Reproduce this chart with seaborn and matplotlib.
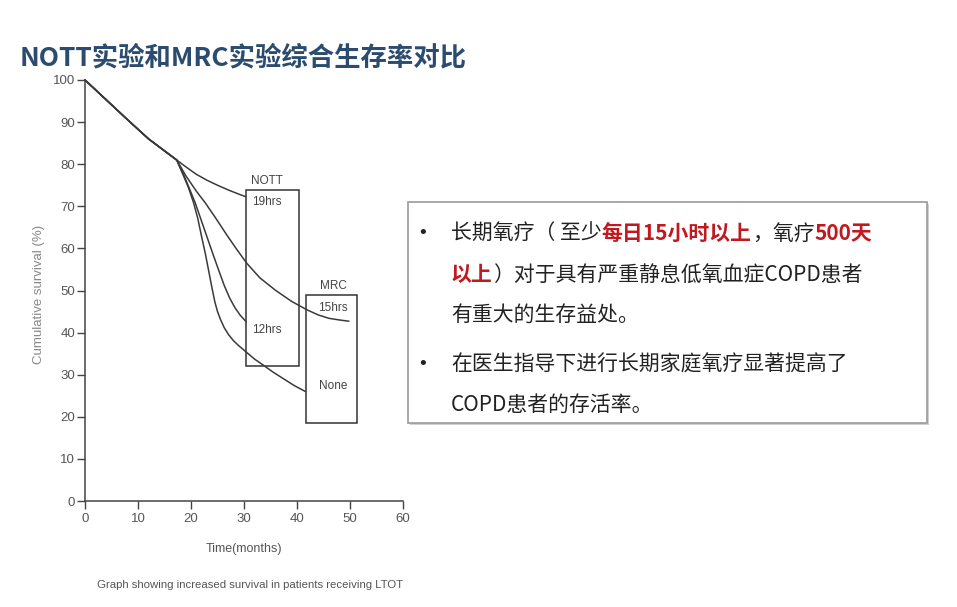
import numpy as np
import pandas as pd
import seaborn as sns
import matplotlib.pyplot as plt
from matplotlib.patches import Rectangle

# survival curves (months, cumulative survival %)
months_common = [0, 4, 8, 12, 17.3]
survival_common = [100, 95.3, 90.6, 86.0, 81.0]

months_19hrs = [19, 21, 23, 25, 27, 29, 30.3]
survival_19hrs = [79.4, 77.6, 76.2, 75.0, 73.9, 72.9, 72.3]

months_15hrs = [19, 21, 22.7, 24.5, 26.7, 28.5, 30.5, 33, 36, 39, 41.9, 44, 46, 48, 49.8]
survival_15hrs = [77.3, 73.6, 70.8, 67.5, 63.3, 60.0, 56.5, 53.0, 50.0, 47.4, 45.4, 44.2, 43.4, 43.0, 42.7]

months_12hrs = [18.5, 19.7, 20.8, 21.9, 23, 24.1, 25.2, 26.3, 27.3, 28.3, 29.3, 30.4]
survival_12hrs = [77.8, 74.2, 70.8, 66.8, 62.8, 58.8, 54.9, 51.1, 48.2, 45.9, 44.1, 42.6]

months_none = [18.5, 19.5, 20.5, 21.3, 22, 22.7, 23.3, 23.9, 24.5, 25.0, 25.6,
               26.3, 27.1, 28.0, 29.0, 30.4, 32, 33.6, 35.5, 37.5, 39.5, 41.6]
survival_none = [77.5, 74.5, 70.8, 67.0, 62.8, 58.8, 54.9, 51.0, 47.3, 45.0, 43.0,
                 41.1, 39.5, 38.1, 36.9, 35.4, 33.7, 32.3, 30.6, 29.0, 27.4, 26.0]

x_ticks = [0, 10, 20, 30, 40, 50, 60]
y_ticks = [0, 10, 20, 30, 40, 50, 60, 70, 80, 90, 100]

TITLE = 'NOTT实验和MRC实验综合生存率对比'
CAPTION = 'Graph showing increased survival in patients receiving LTOT'

W, H = 957, 607
CJK = ['Noto Sans CJK SC', 'DejaVu Sans']
LATIN = ['Liberation Sans', 'DejaVu Sans']
RED = '#c0191f'
INK = '#222222'
GRAY = '#444444'

sns.set_style('ticks')
plt.rcParams['font.family'] = LATIN

curves = {
    '19hrs': (months_19hrs, survival_19hrs),
    '15hrs': (months_15hrs, survival_15hrs),
    '12hrs': (months_12hrs, survival_12hrs),
    'None': (months_none, survival_none),
}
frames = []
for name, (mx, sy) in curves.items():
    frames.append(pd.DataFrame({
        'month': months_common + mx,
        'survival': survival_common + sy,
        'group': name,
    }))
df = pd.concat(frames, ignore_index=True)

fig = plt.figure(figsize=(W / 100, H / 100), dpi=100)
fig.patch.set_facecolor('white')
ax = fig.add_axes([85 / W, 1 - 501 / H, 318 / W, 421 / H])

sns.lineplot(data=df, x='month', y='survival', units='group', estimator=None,
             sort=False, color='#3a3a3a', linewidth=1.1, ax=ax)
for line in ax.lines:
    line.set_clip_on(False)

ax.set_xlim(0, 60)
ax.set_ylim(0, 100)
ax.set_xticks(x_ticks)
ax.set_yticks(y_ticks)
ax.tick_params(axis='both', direction='out', length=6, width=1.0, color=GRAY,
               labelsize=9.5, labelcolor='#555555', pad=1)
ax.tick_params(axis='x', pad=3)
for side in ['top', 'right']:
    ax.spines[side].set_visible(False)
for side in ['left', 'bottom']:
    ax.spines[side].set_color(GRAY)
    ax.spines[side].set_linewidth(1.1)

ax.set_xlabel('Time(months)', fontsize=9, color='#555555')
ax.set_ylabel('Cumulative survival (%)', fontsize=9.5, color='#888888')
ax.xaxis.set_label_coords(0.5, -0.1)
ax.yaxis.set_label_coords(-0.125, 0.49)

# trial boxes
box_kw = dict(fill=False, edgecolor='#333333', linewidth=1.1)
ax.add_patch(Rectangle((30.4, 32.1), 10.0, 41.8, **box_kw))
ax.add_patch(Rectangle((41.7, 18.5), 9.6, 30.4, **box_kw))
lab_kw = dict(ha='center', va='center', fontsize=8.5, color=GRAY)
ax.text(34.3, 76.0, 'NOTT', **lab_kw)
ax.text(34.3, 71.1, '19hrs', **lab_kw)
ax.text(34.3, 40.6, '12hrs', **lab_kw)
ax.text(46.8, 51.0, 'MRC', **lab_kw)
ax.text(46.8, 45.8, '15hrs', **lab_kw)
ax.text(46.8, 27.2, 'None', **lab_kw)

fig.text(250 / W, 1 - 585 / H, CAPTION, ha='center', va='center',
         fontsize=8.2, color='#555555')

# title
fig.text(20 / W, 1 - 65 / H, TITLE, family=CJK, fontsize=19, fontweight='bold',
         color='#2b4c6f', ha='left', va='baseline')

# text box on the right
fig.patches.append(Rectangle((410 / W, 1 - 425 / H), 519 / W, 221 / H,
                             transform=fig.transFigure, facecolor='#d0d0d0',
                             edgecolor='none', zorder=1))
fig.patches.append(Rectangle((408 / W, 1 - 423 / H), 519 / W, 221 / H,
                             transform=fig.transFigure, facecolor='white',
                             edgecolor='#9a9a9a', linewidth=1.2, zorder=2))

renderer = fig.canvas.get_renderer()


def draw_runs(x_px, y_px, runs, size=15):
    x = x_px
    for text, color, weight in runs:
        t = fig.text(x / W, 1 - y_px / H, text, family=CJK, fontsize=size,
                     color=color, fontweight=weight, ha='left', va='baseline',
                     zorder=3)
        x += t.get_window_extent(renderer).width


lines = [
    (240, True, [('长期氧疗（ 至少', INK, 'normal'), ('每日15小时以上', RED, 'bold'),
                 ('，氧疗', INK, 'normal'), ('500天', RED, 'bold')]),
    (281, False, [('以上', RED, 'bold'), ('）对于具有严重静息低氧血症COPD患者', INK, 'normal')]),
    (321, False, [('有重大的生存益处。', INK, 'normal')]),
    (371, True, [('在医生指导下进行长期家庭氧疗显著提高了', INK, 'normal')]),
    (411, False, [('COPD患者的存活率。', INK, 'normal')]),
]
for y_px, bullet, runs in lines:
    if bullet:
        fig.text(419 / W, 1 - (y_px - 2) / H, '•', family=LATIN, fontsize=14,
                 color=INK, ha='left', va='baseline', zorder=3)
    draw_runs(451, y_px, runs)

fig.savefig('out.png', dpi=100, facecolor='white')
